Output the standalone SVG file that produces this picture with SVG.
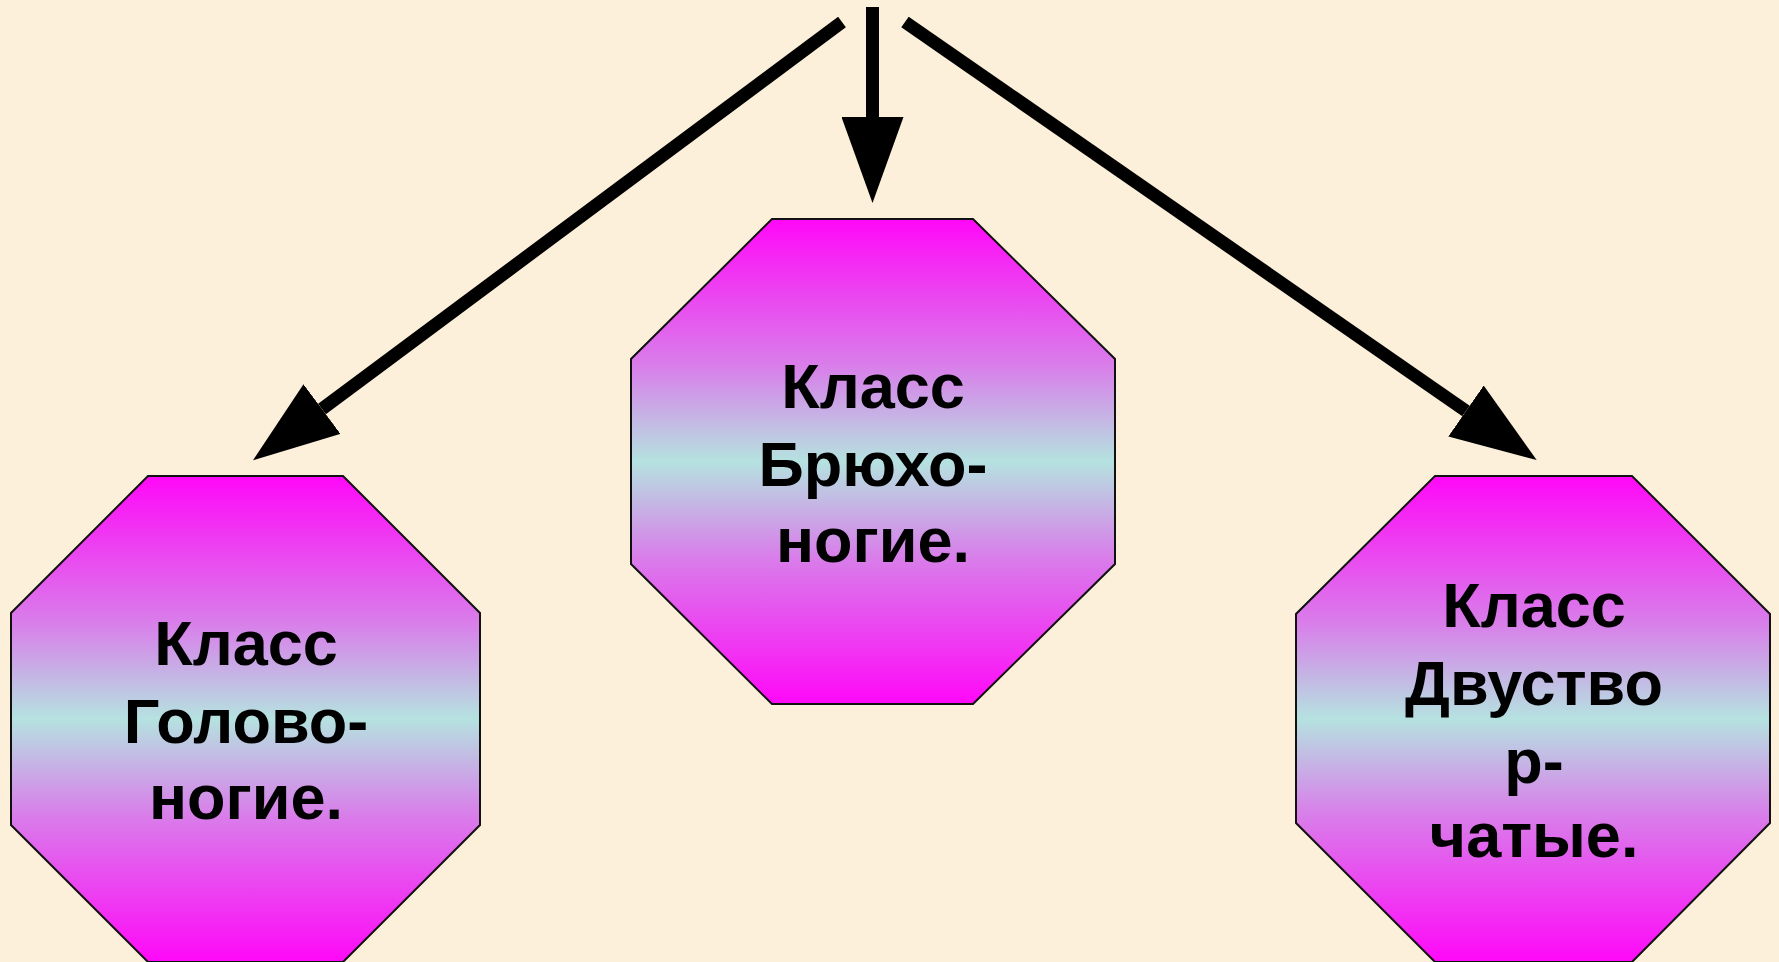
<svg xmlns="http://www.w3.org/2000/svg" width="1779" height="962" viewBox="0 0 1779 962">
<style>
.oct{stroke:#111;stroke-width:2;fill:url(#g)}
.lbl{font-family:"Liberation Sans",Arial,sans-serif;font-weight:bold;font-size:63px;fill:#000;text-anchor:middle}
.con{stroke:#000;stroke-width:13;fill:none;stroke-linecap:butt;marker-end:url(#ah)}
</style>
<defs>
<linearGradient id="g" x1="0" y1="0" x2="0" y2="1">
<stop offset="0" stop-color="#FF08F8"/>
<stop offset="0.3" stop-color="#D97DEA"/>
<stop offset="0.5" stop-color="#B5E2E0"/>
<stop offset="0.7" stop-color="#D97DEA"/>
<stop offset="1" stop-color="#FF08F8"/>
</linearGradient>
<marker id="ah" markerUnits="userSpaceOnUse" markerWidth="86" markerHeight="62" viewBox="0 0 86 62" refX="0" refY="31" orient="auto">
<path d="M0,0 L86,31 L0,62 Z" fill="#000"/>
</marker>
</defs>
<rect width="1779" height="962" fill="#FCF0DA"/>
<g id="connectors">
<line class="con" x1="872.5" y1="7" x2="872.5" y2="117"/>
<line class="con" x1="842" y1="22" x2="322" y2="409"/>
<line class="con" x1="905" y1="22" x2="1466" y2="411"/>
</g>
<g id="node-center">
<polygon class="oct" points="772,219 973,219 1115,359 1115,564 973,704 772,704 631,564 631,359"/>
<text class="lbl" x="873" y="408">Класс</text>
<text class="lbl" x="873" y="486">Брюхо-</text>
<text class="lbl" x="873" y="562">ногие.</text>
</g>
<g id="node-left">
<polygon class="oct" points="148,476 343,476 480,613 480,825 343,962 148,962 11,825 11,613"/>
<text class="lbl" x="246" y="665">Класс</text>
<text class="lbl" x="246" y="743">Голово-</text>
<text class="lbl" x="246" y="819">ногие.</text>
</g>
<g id="node-right">
<polygon class="oct" points="1435,476 1632,476 1770,614 1770,823 1632,962 1435,962 1296,823 1296,614"/>
<text class="lbl" x="1534" y="627">Класс</text>
<text class="lbl" x="1534" y="705">Двуство</text>
<text class="lbl" x="1534" y="783">р-</text>
<text class="lbl" x="1534" y="857">чатые.</text>
</g>
</svg>
